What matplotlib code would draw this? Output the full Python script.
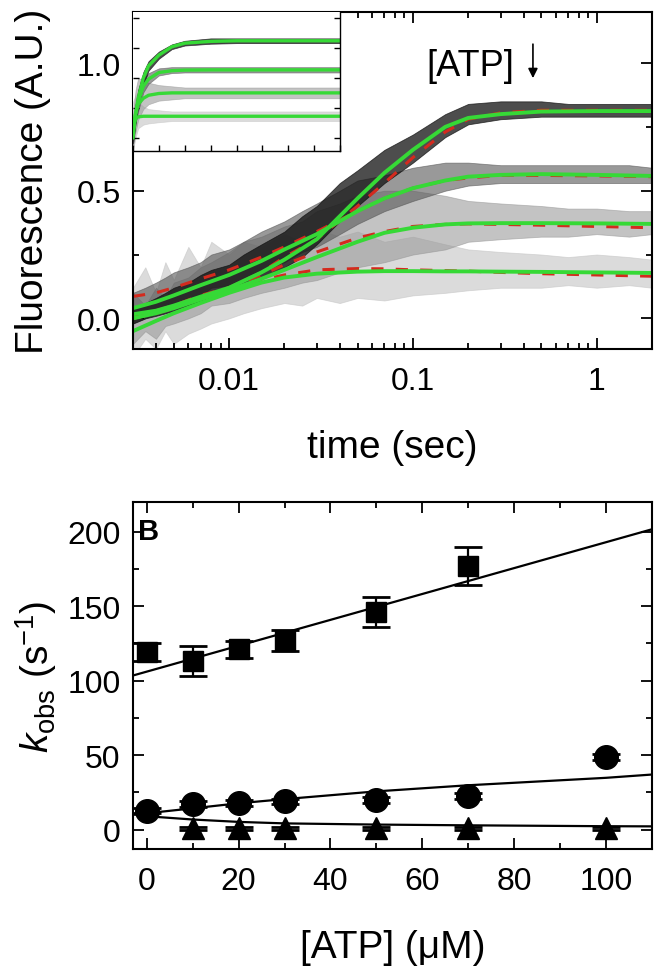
import numpy as np
import matplotlib
matplotlib.use("Agg")
from matplotlib import pyplot as plt
from matplotlib.ticker import MultipleLocator, LogLocator, NullFormatter, FixedLocator

plt.rcParams['font.family'] = ['Liberation Sans', 'DejaVu Sans']
plt.rcParams['mathtext.fontset'] = 'custom'
plt.rcParams['mathtext.rm'] = 'Liberation Sans'
plt.rcParams['mathtext.it'] = 'Liberation Sans:italic'

# ---------------- panel A: fluorescence transients ----------------
# times (s) of the read-off fit points
tf = [0.003, 0.004, 0.005, 0.007, 0.01, 0.015, 0.02, 0.03, 0.05, 0.07, 0.1,
      0.15, 0.2, 0.3, 0.5, 1.0, 2.0]
green1 = [0.016, 0.03, 0.05, 0.085, 0.12, 0.18, 0.23, 0.31, 0.47, 0.57, 0.66,
          0.75, 0.785, 0.80, 0.81, 0.812, 0.812]
green2 = [0.04, 0.065, 0.09, 0.13, 0.17, 0.225, 0.27, 0.33, 0.42, 0.47, 0.51,
          0.54, 0.555, 0.562, 0.565, 0.562, 0.558]
green3 = [0.0, 0.02, 0.04, 0.075, 0.11, 0.155, 0.19, 0.24, 0.30, 0.335, 0.355,
          0.368, 0.372, 0.373, 0.373, 0.372, 0.37]
green4 = [-0.05, -0.01, 0.02, 0.06, 0.10, 0.14, 0.16, 0.175, 0.183, 0.185, 0.185,
          0.184, 0.184, 0.183, 0.182, 0.18, 0.178]
red1 = [0.0, 0.02, 0.04, 0.08, 0.12, 0.18, 0.24, 0.31, 0.44, 0.53, 0.63,
        0.73, 0.78, 0.805, 0.815, 0.815, 0.815]
red2 = [0.086, 0.10, 0.12, 0.155, 0.19, 0.24, 0.28, 0.34, 0.42, 0.47, 0.51,
        0.54, 0.55, 0.56, 0.56, 0.558, 0.555]
red3 = [0.0, 0.02, 0.04, 0.08, 0.12, 0.17, 0.21, 0.26, 0.315, 0.34, 0.36,
        0.368, 0.37, 0.368, 0.365, 0.36, 0.355]
red4 = [0.008, 0.03, 0.05, 0.09, 0.12, 0.15, 0.17, 0.19, 0.195, 0.194, 0.19,
        0.187, 0.185, 0.18, 0.175, 0.17, 0.165]

# noise envelopes of the raw traces
tn = [0.003, 0.0035, 0.004, 0.0045, 0.005, 0.006, 0.007, 0.008, 0.01, 0.012,
      0.015, 0.02, 0.025, 0.03, 0.04, 0.05, 0.07, 0.1, 0.15, 0.2, 0.3, 0.5,
      0.7, 1.0, 1.5, 2.0]
lo4 = [-0.15, -0.08, -0.12, -0.05, -0.1, -0.06, -0.04, -0.02, 0.0, 0.02, 0.04,
       0.06, 0.05, 0.08, 0.06, 0.08, 0.07, 0.09, 0.1, 0.11, 0.12, 0.12, 0.13,
       0.12, 0.13, 0.12]
hi4 = [0.12, 0.2, 0.1, 0.22, 0.15, 0.28, 0.2, 0.3, 0.25, 0.3, 0.28, 0.33, 0.3,
       0.35, 0.32, 0.34, 0.3, 0.32, 0.29, 0.27, 0.26, 0.25, 0.24, 0.25, 0.24, 0.23]
lo3 = [-0.1, -0.05, -0.08, -0.03, -0.02, 0.0, 0.02, 0.05, 0.06, 0.08, 0.1,
       0.12, 0.14, 0.15, 0.18, 0.2, 0.22, 0.25, 0.27, 0.3, 0.31, 0.32, 0.32,
       0.33, 0.32, 0.33]
hi3 = [0.1, 0.05, 0.12, 0.08, 0.14, 0.16, 0.2, 0.22, 0.26, 0.3, 0.32, 0.36,
       0.38, 0.42, 0.45, 0.48, 0.5, 0.5, 0.48, 0.46, 0.45, 0.44, 0.43, 0.43,
       0.42, 0.42]
lo2 = [-0.02, 0.0, 0.02, 0.03, 0.05, 0.07, 0.09, 0.12, 0.13, 0.16, 0.19, 0.22,
       0.26, 0.28, 0.33, 0.37, 0.42, 0.46, 0.5, 0.52, 0.53, 0.53, 0.53, 0.53,
       0.53, 0.53]
hi2 = [0.1, 0.12, 0.14, 0.16, 0.18, 0.2, 0.22, 0.25, 0.27, 0.3, 0.34, 0.38,
       0.42, 0.45, 0.5, 0.54, 0.56, 0.59, 0.61, 0.61, 0.6, 0.6, 0.6, 0.6,
       0.6, 0.59]
lo1 = [-0.02, 0.0, 0.01, 0.02, 0.03, 0.05, 0.07, 0.08, 0.1, 0.13, 0.16, 0.2,
       0.24, 0.29, 0.38, 0.44, 0.53, 0.61, 0.71, 0.76, 0.78, 0.79, 0.79, 0.79,
       0.79, 0.79]
hi1 = [0.04, 0.06, 0.08, 0.1, 0.12, 0.14, 0.17, 0.19, 0.21, 0.25, 0.29, 0.34,
       0.4, 0.44, 0.53, 0.58, 0.66, 0.72, 0.8, 0.84, 0.85, 0.85, 0.84, 0.84,
       0.84, 0.84]

# inset (linear time)
ti = [0.0, 0.01, 0.02, 0.04, 0.06, 0.1, 0.15, 0.2, 0.3, 0.4, 0.6, 0.8]
ig1 = [0.0, 0.2, 0.33, 0.5, 0.6, 0.69, 0.76, 0.79, 0.805, 0.81, 0.81, 0.81]
ig2 = [0.04, 0.2, 0.3, 0.43, 0.49, 0.545, 0.56, 0.565, 0.567, 0.567, 0.567, 0.567]
ig3 = [0.05, 0.2, 0.28, 0.33, 0.355, 0.37, 0.375, 0.375, 0.375, 0.375, 0.375, 0.375]
ig4 = [0.1, 0.16, 0.175, 0.18, 0.18, 0.18, 0.18, 0.18, 0.18, 0.18, 0.18, 0.18]
ilo1 = [-0.05, 0.12, 0.26, 0.44, 0.56, 0.66, 0.74, 0.77, 0.785, 0.79, 0.79, 0.79]
ihi1 = [0.08, 0.28, 0.4, 0.55, 0.64, 0.72, 0.78, 0.81, 0.83, 0.83, 0.83, 0.83]
ilo2 = [-0.05, 0.12, 0.22, 0.38, 0.45, 0.52, 0.54, 0.545, 0.545, 0.545, 0.545, 0.545]
ihi2 = [0.1, 0.28, 0.38, 0.49, 0.54, 0.58, 0.59, 0.59, 0.59, 0.59, 0.59, 0.59]
ilo3 = [-0.08, 0.05, 0.15, 0.24, 0.28, 0.31, 0.32, 0.33, 0.33, 0.33, 0.33, 0.33]
ihi3 = [0.2, 0.4, 0.5, 0.48, 0.46, 0.44, 0.43, 0.42, 0.42, 0.42, 0.42, 0.42]
ilo4 = [-0.1, 0.0, 0.08, 0.11, 0.12, 0.13, 0.14, 0.14, 0.14, 0.14, 0.14, 0.14]
ihi4 = [0.3, 0.36, 0.3, 0.26, 0.24, 0.23, 0.22, 0.22, 0.22, 0.22, 0.22, 0.22]

# ---------------- panel B: kobs vs [ATP] ----------------
atp_sq = [0, 10, 20, 30, 50, 70]
k_sq = [119, 113, 121, 127, 146, 177]
e_sq = [6, 10, 6, 7, 10, 13]
atp_ci = [0, 10, 20, 30, 50, 70, 100]
k_ci = [12.7, 17.3, 17.7, 18.9, 20, 22.7, 49]
e_ci = [1.5, 2, 2, 2, 2, 2, 2]
atp_tr = [10, 20, 30, 50, 70, 100]
k_tr = [1, 1, 1, 1, 1, 1]
e_tr = [1, 1, 1, 1, 1, 1]
fit_sq_x = [-3, 110]
fit_sq_y = [103.5, 201.7]
fit_ci_x = [-3, 0, 10, 20, 30, 50, 70, 100, 110]
fit_ci_y = [10.0, 11.0, 14.3, 17.7, 20.5, 25.7, 29.8, 34.8, 37.0]
fit_tr_x = [-3, 0, 10, 20, 30, 50, 70, 100, 110]
fit_tr_y = [10.5, 9.0, 6.8, 5.2, 4.2, 3.4, 2.9, 2.3, 2.2]

GREEN = '#36d936'
RED = '#d42a1e'
GRAYS = ['#111111', '#555555', '#939393', '#c4c4c4']
ALPHAS = [0.75, 0.6, 0.55, 0.6]


def style_axes(ax):
    for s in ax.spines.values():
        s.set_linewidth(1.5)
    ax.tick_params(which='both', direction='in', top=True, right=True,
                   labelsize=23, pad=9, width=1.3)
    ax.tick_params(which='major', length=8)
    ax.tick_params(which='minor', length=4)


fig = plt.figure(figsize=(6.63, 9.70), dpi=100)

# ---- A ----
axA = fig.add_axes([133/663, 1-350/970, 519/663, 337/970])
bands = [(lo4, hi4), (lo3, hi3), (lo2, hi2), (lo1, hi1)]
for i, (lo, hi) in enumerate(bands):
    axA.fill_between(tn, lo, hi, color=GRAYS[3-i], lw=0.6, alpha=ALPHAS[3-i])
for r in [red1, red2, red3, red4]:
    axA.plot(tf, r, color=RED, lw=2.2, ls=(0, (4, 4)))
for g in [green1, green2, green3, green4]:
    axA.plot(tf, g, color=GREEN, lw=2.8)
axA.set_xscale('log')
axA.set_xlim(0.003, 2.0)
axA.set_ylim(-0.12, 1.2)
axA.yaxis.set_major_locator(FixedLocator([0.0, 0.5, 1.0]))
axA.yaxis.set_minor_locator(FixedLocator([0.25, 0.75]))
axA.set_yticklabels(['0.0', '0.5', '1.0'])
axA.xaxis.set_major_locator(FixedLocator([0.01, 0.1, 1]))
axA.set_xticklabels(['0.01', '0.1', '1'])
axA.xaxis.set_minor_locator(LogLocator(base=10, subs=np.arange(2, 10)))
axA.xaxis.set_minor_formatter(NullFormatter())
style_axes(axA)
axA.tick_params(axis='x', pad=12)
axA.set_xlabel('time (sec)', fontsize=28, labelpad=24)
axA.set_ylabel('Fluorescence (A.U.)', fontsize=28, labelpad=18)
axA.text(0.006, 0.975, 'A', transform=axA.transAxes, fontsize=21,
         fontweight='bold', va='top', ha='left', zorder=10)
axA.text(0.205, 0.99, '[ATP]', fontsize=26, ha='center', va='center')
axA.annotate('', xy=(0.45, 0.93), xytext=(0.45, 1.085),
             arrowprops=dict(arrowstyle='-|>', color='k', lw=1.2,
                             mutation_scale=14))

# inset
axI = fig.add_axes([133/663, 1-152/970, 207/663, 139/970])
ibands = [(ilo4, ihi4), (ilo3, ihi3), (ilo2, ihi2), (ilo1, ihi1)]
for i, (lo, hi) in enumerate(ibands):
    axI.fill_between(ti, lo, hi, color=GRAYS[3-i], lw=0.5, alpha=ALPHAS[3-i])
for g in [ig1, ig2, ig3, ig4]:
    axI.plot(ti, g, color=GREEN, lw=2.4)
axI.set_xlim(0, 0.8)
axI.set_ylim(-0.11, 1.05)
axI.xaxis.set_major_locator(MultipleLocator(0.1))
axI.yaxis.set_major_locator(MultipleLocator(0.25))
axI.set_xticklabels([])
axI.set_yticklabels([])
for s in axI.spines.values():
    s.set_linewidth(1.0)
axI.spines['top'].set_visible(False)
axI.spines['left'].set_visible(False)
axI.tick_params(direction='in', length=4, width=1, top=False, right=True,
                left=True)

# ---- B ----
axB = fig.add_axes([133/663, 1-850/970, 519/663, 347/970])
axB.plot(fit_sq_x, fit_sq_y, color='k', lw=1.6)
axB.plot(fit_ci_x, fit_ci_y, color='k', lw=1.6)
axB.plot(fit_tr_x, fit_tr_y, color='k', lw=1.6)
eb = dict(color='k', capsize=10, capthick=2, elinewidth=1.6, ls='none')
axB.errorbar(atp_sq, k_sq, yerr=e_sq, fmt='s', ms=14, **eb)
axB.errorbar(atp_ci, k_ci, yerr=e_ci, fmt='o', ms=17, **eb)
axB.errorbar(atp_tr, k_tr, yerr=e_tr, fmt='^', ms=16, **eb)
axB.set_xlim(-3, 110)
axB.set_ylim(-13, 220)
axB.xaxis.set_major_locator(MultipleLocator(20))
axB.xaxis.set_minor_locator(MultipleLocator(10))
axB.yaxis.set_major_locator(MultipleLocator(50))
axB.yaxis.set_minor_locator(MultipleLocator(25))
style_axes(axB)
axB.tick_params(axis='x', pad=12)
axB.set_xlabel('[ATP] (\u03bcM)', fontsize=28, labelpad=24)
axB.set_ylabel(r'$k_{\mathrm{obs}}$ (s$^{-1}$)', fontsize=28, labelpad=6)
axB.text(0.01, 0.957, 'B', transform=axB.transAxes, fontsize=21,
         fontweight='bold', va='top', ha='left')

fig.savefig('out.png', dpi=100)
